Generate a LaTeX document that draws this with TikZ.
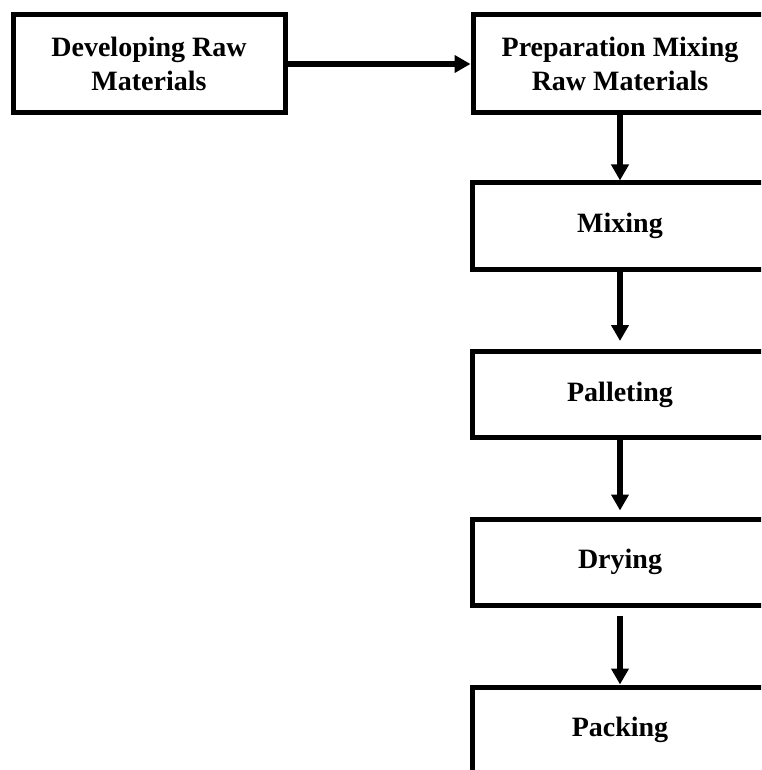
\documentclass[tikz,border=0pt]{standalone}
\usepackage{fontspec}
\setmainfont{Liberation Serif}
\usetikzlibrary{arrows.meta}

\begin{document}
\begin{tikzpicture}[x=0.5pt,y=-0.5pt,line width=2.5pt,
    stepbox/.style={draw,rectangle,align=center,font=\fontsize{14}{17}\selectfont\bfseries},
    flow/.style={line width=3pt,-{Triangle[length=8pt,width=8.5pt]}}]

% Page size, the right and lower boxes run off the page
\useasboundingbox (0,0) rectangle (761,770);
\clip (0,0) rectangle (761,770);

%Define box sizes
\def\topw{136pt}      %width of Developing box.
\def\prepw{147pt}     %width of Preparation box.
\def\topht{49pt}      %height of the two top boxes.
\def\colw{148pt}      %width of column boxes.
\def\colht{43pt}      %height of column boxes.

% Top row
\node[stepbox,minimum width=\topw,minimum height=\topht] (develop) at (149,64) {Developing Raw\\Materials};
\node[stepbox,minimum width=\prepw,minimum height=\topht] (prep) at (620,64) {Preparation Mixing\\Raw Materials};

% Column of steps
\node[stepbox,minimum width=\colw,minimum height=\colht] (mixing) at (620,226) {Mixing};
\node[stepbox,minimum width=\colw,minimum height=\colht] (palleting) at (620,394.5) {Palleting};
\node[stepbox,minimum width=\colw,minimum height=\colht] (drying) at (620,562) {Drying};
\node[stepbox,minimum width=\colw,minimum height=\colht] (packing) at (620,730) {Packing};

% Arrows
\draw[flow] (develop) -- (prep);
\draw[flow] (prep) -- (mixing);
\draw[flow,shorten >=4pt] (mixing) -- (palleting);
\draw[flow,shorten >=3pt] (palleting) -- (drying);
\draw[flow,shorten <=4pt] (drying) -- (packing);

\end{tikzpicture}
\end{document}
